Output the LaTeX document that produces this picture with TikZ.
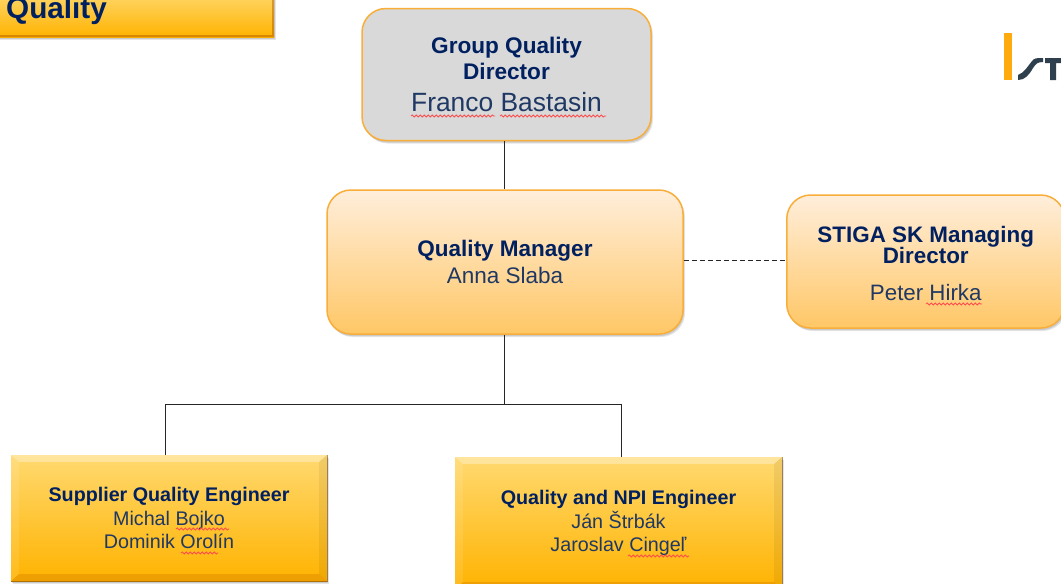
\documentclass[tikz,border=0pt]{standalone}
\usepackage{fontspec}
\setmainfont{Liberation Sans}
\usetikzlibrary{decorations.pathmorphing,shadows}
\definecolor{navy}{HTML}{002060}
\definecolor{namec}{HTML}{1F3864}
\definecolor{edgeo}{HTML}{F9AE3A}
\definecolor{logod}{HTML}{2E3F4E}
\definecolor{logoo}{HTML}{FFAB10}
\definecolor{peachtop}{HTML}{FFEEDB}
\definecolor{peachbot}{HTML}{FFC766}
\definecolor{goldtop}{HTML}{FFD970}
\definecolor{goldbot}{HTML}{FFB300}
\definecolor{boxgrey}{HTML}{D9D9D9}
\tikzset{
  softshadow/.style={general shadow={shadow xshift=2pt,shadow yshift=-3pt,fill=black,opacity=.10},
                     general shadow={shadow xshift=1pt,shadow yshift=-2pt,fill=black,opacity=.12}},
  roundbox/.style={draw=edgeo,line width=1.5pt,rounded corners=24pt,softshadow,align=center,inner sep=0pt},
  peachbox/.style={roundbox,top color=peachtop,bottom color=peachbot},
  greybox/.style={roundbox,fill=boxgrey},
  flatbox/.style={draw=none,softshadow,top color=goldtop,bottom color=goldbot,align=center,inner sep=0pt},
  wire/.style={draw=black!85,line width=.9pt},
  dashwire/.style={wire,dash pattern=on 5pt off 3pt},
  squiggle/.style={draw=red!70!white,line width=.8pt,decorate,decoration={snake,amplitude=1.1pt,segment length=4pt}}
}
\newcommand{\ttlt}[1]{\textcolor{navy}{\textbf{#1}}}
\newcommand{\namt}[1]{\textcolor{namec}{#1}}
\begin{document}
\begin{tikzpicture}[x=1pt,y=-1pt]
\useasboundingbox (0,0) rectangle (1061,584);
\clip (0,0) rectangle (1061,584);
\fill[white] (0,0) rectangle (1061,584);
% header box
\node[flatbox,minimum width=284pt,minimum height=47pt,anchor=north west] (hdr) at (-10,-10) {};
\fill[black!35!orange,opacity=.45] (-10,35) -- (272,35) -- (272,-10) -- (274,-10) -- (274,37) -- (-10,37) -- cycle;
\node[anchor=base west,inner sep=0pt,font=\fontsize{29.7}{30}\selectfont\bfseries,text=navy] (hdrt) at (6,18) {Quality};
% logo
\fill[logoo] (1004,33) rectangle (1012,80);
\fill[logod] (1018,80) -- (1018,75) .. controls (1024,73) and (1028,66) .. (1032,61) .. controls (1034,58) and (1037,58) .. (1043,58) -- (1043,62) .. controls (1037,62) and (1036,64) .. (1033,68) .. controls (1029,75) and (1025,80) .. (1018,80) -- cycle;
\fill[logod] (1045,58) -- (1061,58) -- (1061,63) -- (1056,63) -- (1056,80) -- (1050,80) -- (1050,63) -- (1045,63) -- cycle;
% boxes
\node[greybox,minimum width=289pt,minimum height=132pt,font=\fontsize{22.6}{26}\selectfont] (grp) at (506.5,74.5) {\ttlt{Group Quality}\\\ttlt{Director}\\[5.5pt]\namt{\fontsize{26.4}{29}\selectfont Franco Bastasin}};
\node[peachbox,minimum width=356pt,minimum height=144pt,font=\fontsize{22.5}{27}\selectfont] (mgr) at (505,262) {\ttlt{Quality Manager}\\\namt{Anna Slaba}};
\node[peachbox,minimum width=278pt,minimum height=133pt,anchor=west,font=\fontsize{22.4}{21}\selectfont] (dir) at (786,261.5) {\rule{0pt}{20pt}\ttlt{STIGA SK Managing}\\\ttlt{Director}\\[16pt]\namt{\fontsize{22.3}{24}\selectfont Peter Hirka}};
\node[flatbox,minimum width=316pt,minimum height=126pt,font=\fontsize{19.7}{23.5}\selectfont] (sq) at (169,518) {\ttlt{Supplier Quality Engineer}\\\namt{Michal Bojko}\\\namt{Dominik Orolín}};
\node[flatbox,minimum width=327pt,minimum height=132pt,font=\fontsize{19.7}{23.5}\selectfont] (npi) at (618.5,523) {\ttlt{Quality and NPI Engineer}\\\namt{Ján Štrbák}\\\namt{Jaroslav Cingeľ}};
% bevels
\foreach \n in {sq,npi}{
  \fill[white,opacity=.32] (\n.north west) -- (\n.north east) -- ([xshift=-8pt,yshift=-7pt]\n.north east) -- ([xshift=8pt,yshift=-7pt]\n.north west) -- cycle;
  \fill[white,opacity=.10] (\n.north west) -- (\n.south west) -- ([xshift=8pt,yshift=7pt]\n.south west) -- ([xshift=8pt,yshift=-7pt]\n.north west) -- cycle;
  \fill[black,opacity=.06] (\n.north east) -- (\n.south east) -- ([xshift=-8pt,yshift=7pt]\n.south east) -- ([xshift=-8pt,yshift=-7pt]\n.north east) -- cycle;
  \fill[orange!70!black,opacity=.22] (\n.south west) -- (\n.south east) -- ([xshift=-8pt,yshift=7pt]\n.south east) -- ([xshift=8pt,yshift=7pt]\n.south west) -- cycle;
  \draw[black!60!orange,line width=.8pt,opacity=.5] (\n.north east) -- (\n.south east) -- (\n.south west);
}
% connectors
\coordinate (bus) at (504,404);
\coordinate (busL) at (165,404);
\coordinate (busR) at (621,404);
\coordinate (dashy) at (700,260);
\draw[wire] (grp.south -| bus) -- (mgr.north -| bus);
\draw[wire] (mgr.south -| bus) -- (bus);
\draw[wire] (sq.north -| busL) -- (busL) -- (busR) -- (npi.north -| busR);
\draw[dashwire] (mgr.east |- dashy) -- (dir.west |- dashy);
% spell-check underlines
\draw[squiggle] (411,116) -- (495,116);
\draw[squiggle] (500,116) -- (606,116);
\draw[squiggle] (926,304) -- (982,304);
\draw[squiggle] (176,529) -- (229,529);
\draw[squiggle] (181,553) -- (218,553);
\draw[squiggle] (628,556) -- (689,556);
\end{tikzpicture}
\end{document}
